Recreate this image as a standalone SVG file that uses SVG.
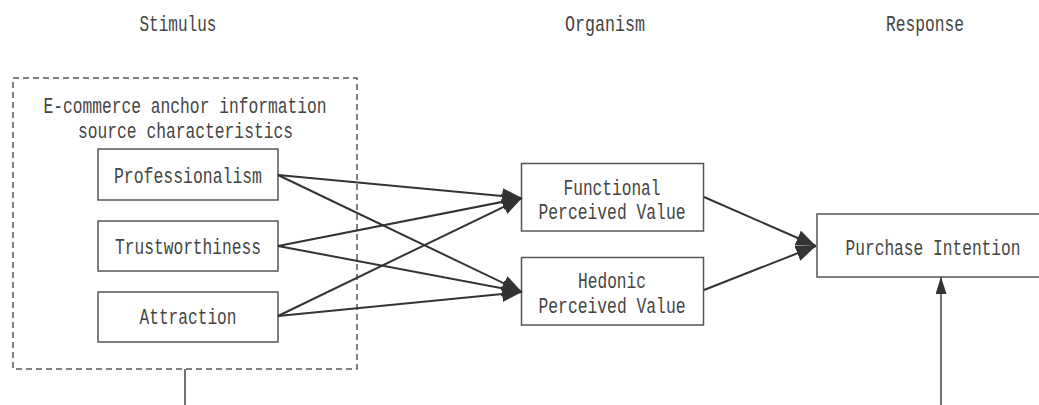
<svg xmlns="http://www.w3.org/2000/svg" width="1039" height="405" viewBox="0 0 1039 405">
  <defs>
    <style>
      .t { font-family: "Liberation Mono", "DejaVu Sans Mono", monospace; font-size: 22px; fill: #444; text-anchor: middle; }
      .box { fill: #fff; stroke: #555; stroke-width: 1.5; }
      .dash { fill: none; stroke: #555; stroke-width: 1.5; stroke-dasharray: 6 4; }
      .arr { fill: none; stroke: #333; stroke-width: 2; marker-end: url(#ah); }
      .thin { fill: none; stroke: #444; stroke-width: 1.5; }
    </style>
    <marker id="ah" markerUnits="userSpaceOnUse" markerWidth="21" markerHeight="17" refX="20" refY="8" orient="auto">
      <path d="M0,0 L20,8 L0,16 z" fill="#333"/>
    </marker>
    <marker id="ahs" markerUnits="userSpaceOnUse" markerWidth="18" markerHeight="12" refX="17" refY="5.5" orient="auto">
      <path d="M0,0 L17,5.5 L0,11 z" fill="#333"/>
    </marker>
  </defs>
  <rect width="1039" height="405" fill="#fff"/>

  <g id="headers">
    <text class="t" x="178" y="31" textLength="77" lengthAdjust="spacingAndGlyphs">Stimulus</text>
    <text class="t" x="605" y="31" textLength="80" lengthAdjust="spacingAndGlyphs">Organism</text>
    <text class="t" x="925" y="31" textLength="78" lengthAdjust="spacingAndGlyphs">Response</text>
  </g>

  <g id="stimulus-group">
    <rect class="dash" x="13" y="78" width="344" height="291"/>
    <text class="t" x="185" y="113" textLength="283" lengthAdjust="spacingAndGlyphs">E-commerce anchor information</text>
    <text class="t" x="185.5" y="138" textLength="215" lengthAdjust="spacingAndGlyphs">source characteristics</text>
  </g>

  <g id="professionalism">
    <rect class="box" x="98" y="149" width="180" height="51"/>
    <text class="t" x="188" y="183" textLength="148" lengthAdjust="spacingAndGlyphs">Professionalism</text>
  </g>
  <g id="trustworthiness">
    <rect class="box" x="98" y="221" width="180" height="50"/>
    <text class="t" x="188" y="254" textLength="146" lengthAdjust="spacingAndGlyphs">Trustworthiness</text>
  </g>
  <g id="attraction">
    <rect class="box" x="98" y="292" width="180" height="50"/>
    <text class="t" x="188" y="324" textLength="97" lengthAdjust="spacingAndGlyphs">Attraction</text>
  </g>

  <g id="functional">
    <rect class="box" x="521.5" y="163.5" width="182" height="67.5"/>
    <text class="t" x="612" y="195" textLength="97" lengthAdjust="spacingAndGlyphs">Functional</text>
    <text class="t" x="612" y="219" textLength="147" lengthAdjust="spacingAndGlyphs">Perceived Value</text>
  </g>
  <g id="hedonic">
    <rect class="box" x="521.5" y="257.5" width="182" height="67.5"/>
    <text class="t" x="612" y="288" textLength="68" lengthAdjust="spacingAndGlyphs">Hedonic</text>
    <text class="t" x="612" y="313" textLength="147" lengthAdjust="spacingAndGlyphs">Perceived Value</text>
  </g>

  <g id="purchase-intention">
    <path d="M1039,214 H817 V277 H1039" fill="#fff" stroke="#555" stroke-width="1.5"/>
    <text class="t" x="933" y="255" textLength="175" lengthAdjust="spacingAndGlyphs">Purchase Intention</text>
  </g>

  <g id="connectors">
    <line class="arr" x1="278" y1="175" x2="522" y2="198"/>
    <line class="arr" x1="278" y1="246" x2="522" y2="198"/>
    <line class="arr" x1="278" y1="316" x2="522" y2="198"/>
    <line class="arr" x1="278" y1="175" x2="522" y2="292"/>
    <line class="arr" x1="278" y1="246" x2="522" y2="292"/>
    <line class="arr" x1="278" y1="316" x2="522" y2="292"/>
    <line class="arr" x1="704" y1="197" x2="816" y2="246"/>
    <line class="arr" x1="704" y1="290" x2="816" y2="246"/>
    <line class="thin" x1="941" y1="405" x2="941" y2="277" marker-end="url(#ahs)"/>
    <line class="thin" x1="185" y1="369" x2="185" y2="405"/>
  </g>
</svg>
